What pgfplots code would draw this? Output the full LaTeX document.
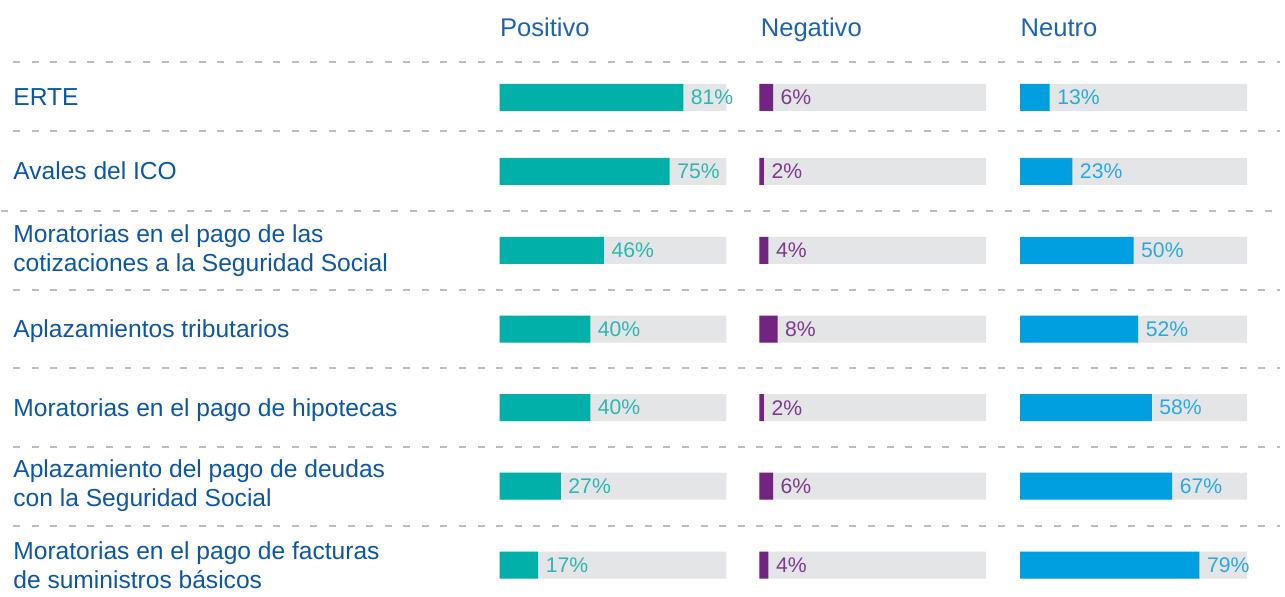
\documentclass[border=0pt]{standalone}
\usepackage{pgfplots}
\usepackage{pgfplotstable}
\pgfplotsset{compat=1.18}
\usepackage{fontspec}
\setmainfont{Liberation Sans}
\definecolor{cteal}{HTML}{00B0A9}
\definecolor{cpurple}{HTML}{712581}
\definecolor{cblue}{HTML}{009FDF}
\definecolor{cgray}{HTML}{E4E5E7}
\definecolor{ctext}{HTML}{0C57A5}
\definecolor{ctitle}{HTML}{1F63B0}
\definecolor{ctealt}{HTML}{2DB7AF}
\definecolor{cpurplet}{HTML}{7D3A8F}
\definecolor{cbluet}{HTML}{2AA9E1}
\definecolor{csep}{HTML}{BDBDBD}

\pgfplotstableread{
y full pos neg neu
97.5 100 81 6 13
171.5 100 75 2 23
250.5 100 46 4 50
329.5 100 40 8 52
408 100 40 2 58
486.5 100 27 6 67
565.5 100 17 4 79
}\data

\begin{document}
\begin{tikzpicture}
\pgfplotsset{
  panel/.style={scale only axis, width=113.5pt, height=298.5pt,
    xmin=0, xmax=100, ymin=0, ymax=597, y dir=reverse, hide axis,
    clip=false, anchor=south west, /pgf/number format/assume math mode=true},
  bg/.style={xbar, bar shift=0pt, bar width=27, fill=cgray, draw=none},
  val/.style={xbar, bar shift=0pt, bar width=27, draw=none, point meta=x,
    nodes near coords={\pgfmathprintnumber{\pgfplotspointmeta}\%},
    nodes near coords style={anchor=west, inner sep=0pt, xshift=3.6pt,
      font=\fontsize{10.6}{12}\selectfont}},
  sep/.style={csep, line width=1pt, dash pattern=on 3.5pt off 5.8pt},
}
\begin{axis}[scale only axis, width=642.5pt, height=298.5pt,
  xmin=0, xmax=1285, ymin=0, ymax=597, y dir=reverse, hide axis,
  clip=false, at={(0,0)}, anchor=south west]
\addplot[draw=none] coordinates {(0,0) (1285,597)};
\addplot[sep] coordinates {(12,62) (1280,62)};
\addplot[sep] coordinates {(12,131) (1280,131)};
\addplot[sep] coordinates {(0,211) (1282,211)};
\addplot[sep] coordinates {(12,290) (1280,290)};
\addplot[sep] coordinates {(12,368) (1280,368)};
\addplot[sep] coordinates {(12,447) (1280,447)};
\addplot[sep] coordinates {(12,526) (1280,526)};
\begin{scope}[every node/.style={text=ctext, inner sep=0pt, align=left,
    font=\fontsize{12.3}{14.5}\selectfont}]
\node[anchor=base west] at (axis cs:12,106) {ERTE};
\node[anchor=base west] at (axis cs:12,180) {Avales del ICO};
\node[anchor=west] at (axis cs:12,250.5) {Moratorias en el pago de las\\cotizaciones a la Seguridad Social};
\node[anchor=base west] at (axis cs:12,338) {Aplazamientos tributarios};
\node[anchor=base west] at (axis cs:12,416.5) {Moratorias en el pago de hipotecas};
\node[anchor=west] at (axis cs:12,486.5) {Aplazamiento del pago de deudas\\con la Seguridad Social};
\node[anchor=west] at (axis cs:12,565.5) {Moratorias en el pago de facturas\\de suministros básicos};
\end{scope}
\begin{scope}[every node/.style={text=ctitle, inner sep=0pt,
    font=\fontsize{12.8}{14}\selectfont}]
\node[anchor=base west] at (axis cs:499,37) {Positivo};
\node[anchor=base west] at (axis cs:760,37) {Negativo};
\node[anchor=base west] at (axis cs:1020,37) {Neutro};
\end{scope}
\end{axis}

\begin{axis}[panel, at={(249.5pt,0)}]
\addplot[bg] table[x=full, y=y]{\data};
\addplot[val, fill=cteal, nodes near coords style={text=ctealt}] table[x=pos, y=y]{\data};
\end{axis}

\begin{axis}[panel, at={(379.5pt,0)}]
\addplot[bg] table[x=full, y=y]{\data};
\addplot[val, fill=cpurple, nodes near coords style={text=cpurplet}] table[x=neg, y=y]{\data};
\end{axis}

\begin{axis}[panel, at={(510pt,0)}]
\addplot[bg] table[x=full, y=y]{\data};
\addplot[val, fill=cblue, nodes near coords style={text=cbluet}] table[x=neu, y=y]{\data};
\end{axis}
\end{tikzpicture}
\end{document}
